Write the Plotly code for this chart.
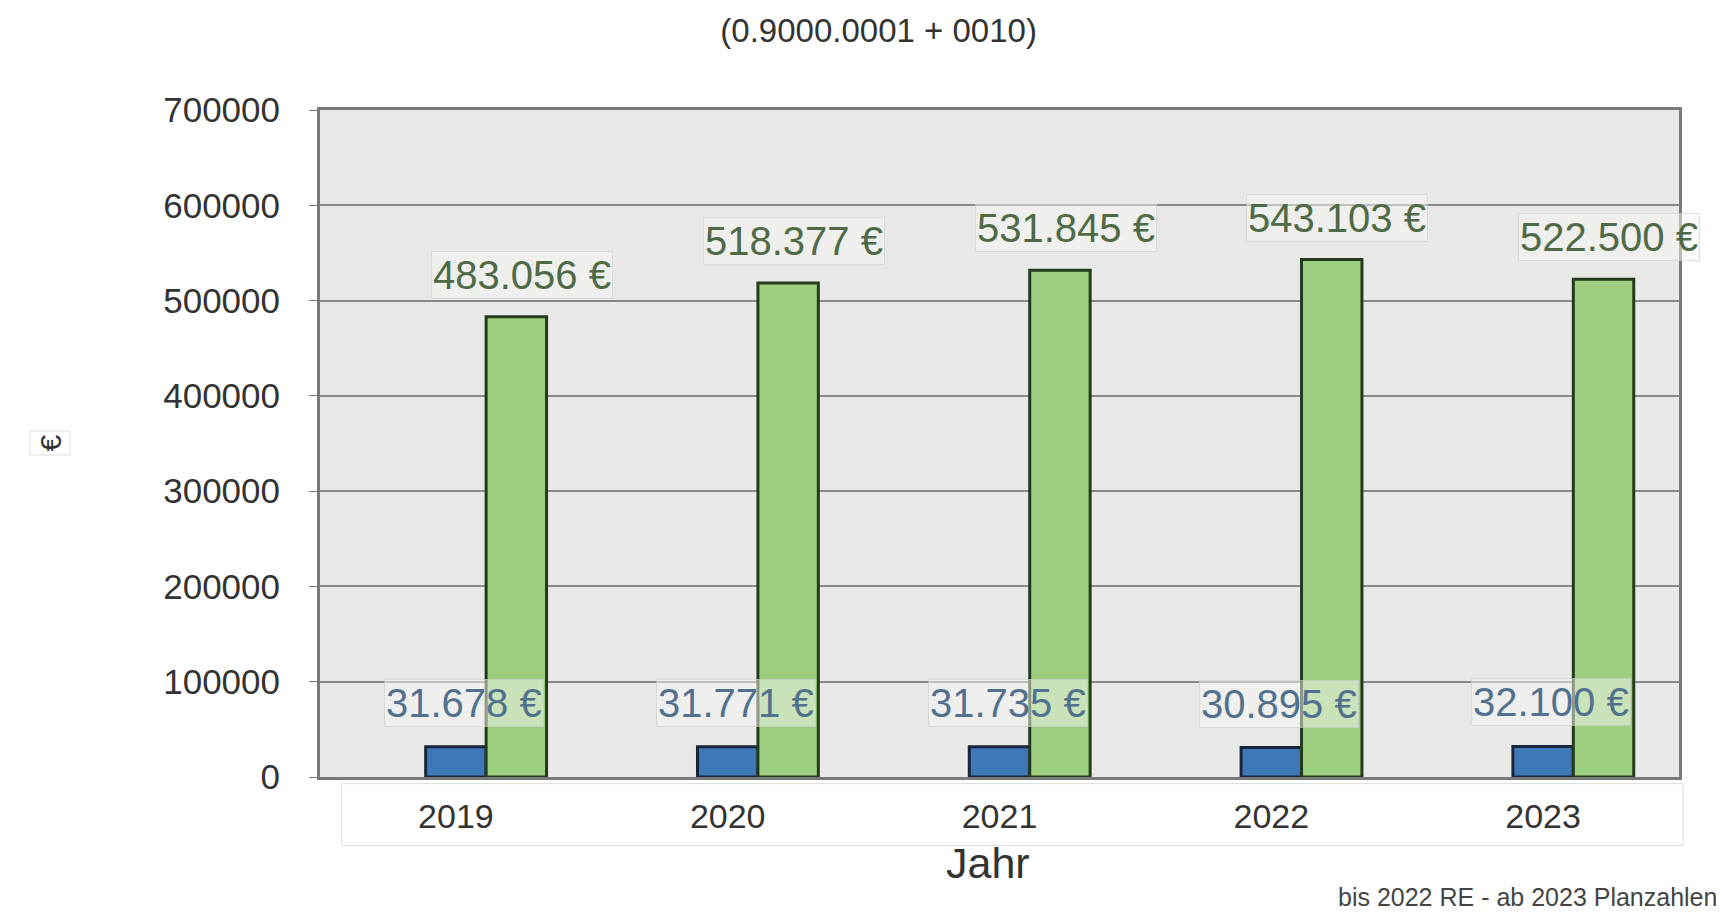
import plotly.graph_objects as go

years = ["2019", "2020", "2021", "2022", "2023"]
blue_values = [31678, 31771, 31735, 30895, 32100]
green_values = [483056, 518377, 531845, 543103, 522500]
y_ticks = [0, 100000, 200000, 300000, 400000, 500000, 600000, 700000]
title_text = "(0.9000.0001 + 0010)"
x_title = "Jahr"
y_title = "€"
footer_text = "bis 2022 RE - ab 2023 Planzahlen"


def euro(v):
    return f"{v:,}".replace(",", ".") + " €"


FONT = "Liberation Sans, Arial, sans-serif"

fig = go.Figure()
# empty first series slot (keeps the grouping as in the original chart)
fig.add_trace(go.Bar(x=years, y=[None] * len(years), showlegend=False, hoverinfo="skip",
                     marker=dict(color="rgba(0,0,0,0)")))
fig.add_trace(go.Bar(x=years, y=blue_values, name="blau", showlegend=False,
                     marker=dict(color="#3f78b8", line=dict(color="#17263a", width=3))))
fig.add_trace(go.Bar(x=years, y=green_values, name="grün", showlegend=False,
                     marker=dict(color="#9dce7f", line=dict(color="#263b1e", width=3))))

annotations = []
for i, v in enumerate(green_values):
    annotations.append(dict(x=i, y=v, xref="x", yref="y", text=euro(v), showarrow=False,
                            xshift=66, yshift=42, yanchor="middle",
                            font=dict(family=FONT, size=40, color="#4f6a46"),
                            bgcolor="rgba(246,246,244,0.5)", bordercolor="rgba(205,205,205,0.6)",
                            borderwidth=1, borderpad=1))
for i, v in enumerate(blue_values):
    annotations.append(dict(x=i, y=v, xref="x", yref="y", text=euro(v), showarrow=False,
                            xshift=8, yshift=44, yanchor="middle",
                            font=dict(family=FONT, size=40, color="#52718f"),
                            bgcolor="rgba(246,246,244,0.5)", bordercolor="rgba(205,205,205,0.6)",
                            borderwidth=1, borderpad=1))

annotations.append(dict(x=0, y=0.5, xref="paper", yref="paper", text=y_title, showarrow=False,
                        textangle=-90, xanchor="center", yanchor="middle", xshift=-270, yshift=0,
                        font=dict(family=FONT, size=30, color="#333333"),
                        bordercolor="rgba(215,215,215,0.8)", borderwidth=1, borderpad=3))
annotations.append(dict(x=0.5, y=0, xref="paper", yref="paper", text=x_title, showarrow=False,
                        xanchor="center", yanchor="middle", xshift=-12, yshift=-86,
                        font=dict(family=FONT, size=43, color="#333333")))
annotations.append(dict(x=1, y=0, xref="paper", yref="paper", text=footer_text, showarrow=False,
                        xanchor="right", yanchor="bottom", xshift=40, yshift=-136,
                        font=dict(family=FONT, size=25, color="#444444")))

fig.update_layout(
    width=1724, height=912,
    margin=dict(l=312, r=53, t=102, b=143),
    paper_bgcolor="white",
    plot_bgcolor="#e8e8e6",
    barmode="group",
    bargap=0.333,
    bargroupgap=0,
    title=dict(text=title_text, x=0.505, xanchor="center", y=0.975, yanchor="middle",
               font=dict(family=FONT, size=33, color="#333333")),
    annotations=annotations,
    shapes=[dict(type="rect", xref="paper", yref="paper", x0=0.016, x1=1.003,
                 y0=-0.103, y1=-0.0099, line=dict(color="#dcdcdc", width=1),
                 fillcolor="rgba(0,0,0,0)", layer="below")],
    font=dict(family=FONT, color="#333333"),
)

fig.update_xaxes(
    type="category",
    range=[-0.5, len(years) - 0.5],
    showline=True, linecolor="#7a7a7a", linewidth=3, mirror=True,
    tickfont=dict(family=FONT, size=34, color="#333333"),
    ticklabelstandoff=7,
    automargin=False,
)
fig.update_yaxes(
    range=[0, 700000], tickvals=y_ticks, ticktext=[str(t) for t in y_ticks],
    showgrid=True, gridcolor="#888888", gridwidth=1.5,
    showline=True, linecolor="#7a7a7a", linewidth=3, mirror=True,
    ticks="outside", ticklen=8, tickcolor="#7a7a7a",
    tickfont=dict(family=FONT, size=35, color="#333333"),
    ticklabelstandoff=22,
    zeroline=False,
    automargin=False,
)

fig.write_html("out.html")
